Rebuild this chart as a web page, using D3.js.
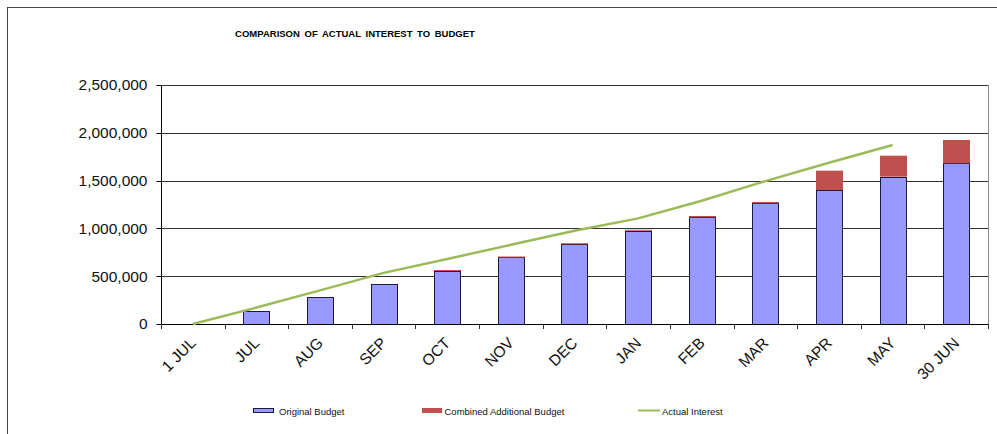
<!DOCTYPE html>
<html>
<head>
<meta charset="utf-8">
<script src="https://cdn.jsdelivr.net/npm/d3@7"></script>
<style>
  body { margin: 0; background: #fff; }
  text { font-family: "Liberation Sans", Arial, sans-serif; }
</style>
</head>
<body>
<div id="chart"></div>
<script>
// DATA
const months = ["1 JUL", "JUL", "AUG", "SEP", "OCT", "NOV", "DEC", "JAN", "FEB", "MAR", "APR", "MAY", "30 JUN"];
const originalBudget = [0, 139000, 279000, 418000, 557000, 698000, 837000, 978000, 1116000, 1262000, 1402000, 1541000, 1681000];
const additionalBudget = [0, 0, 0, 0, 8000, 8000, 8000, 8000, 14000, 14000, 202000, 220000, 244000];
const actualInterest = [0, 172000, 352000, 535000, 680000, 828000, 975000, 1105000, 1290000, 1495000, 1687000, 1872000, null];
const yTicks = [0, 500000, 1000000, 1500000, 2000000, 2500000];

const width = 997, height = 434;
const margin = {left: 161, right: 9, top: 85, bottom: 110};

const svg = d3.select("#chart")
  .append("svg")
  .attr("width", width)
  .attr("height", height);

// outer frame
svg.append("rect")
  .attr("x", 7.5).attr("y", 7.5)
  .attr("width", 1000).attr("height", 500)
  .attr("fill", "none")
  .attr("stroke", "#444");

svg.append("text")
  .attr("x", 355).attr("y", 36.5)
  .attr("text-anchor", "middle")
  .attr("font-size", "9.5px")
  .attr("font-weight", "bold")
  .attr("word-spacing", "2px")
  .text("COMPARISON OF ACTUAL INTEREST TO BUDGET");

// SCALES
const x = d3.scaleBand()
  .domain(months)
  .range([margin.left, width - margin.right])
  .padding(0);

const y = d3.scaleLinear()
  .domain([0, 2500000])
  .range([height - margin.bottom, margin.top]);

const cx = m => x(m) + x.bandwidth() / 2;
const barW = x.bandwidth() * 0.41;

// gridlines
svg.append("g")
  .selectAll("line")
  .data(yTicks.slice(1))
  .join("line")
    .attr("x1", margin.left)
    .attr("x2", width - margin.right)
    .attr("y1", d => Math.round(y(d)) + 0.5)
    .attr("y2", d => Math.round(y(d)) + 0.5)
    .attr("stroke", "#333");

// right border of plot area
svg.append("line")
  .attr("x1", width - margin.right + 0.5).attr("x2", width - margin.right + 0.5)
  .attr("y1", y(2500000)).attr("y2", y(0))
  .attr("stroke", "#888");

// bars
const rows = months.map((m, i) => ({m, orig: originalBudget[i], add: additionalBudget[i], act: actualInterest[i]}));

svg.append("g")
  .selectAll("rect")
  .data(rows.filter(d => d.orig > 0))
  .join("rect")
    .attr("x", d => Math.round(cx(d.m) - barW / 2) + 0.5)
    .attr("y", d => Math.round(y(d.orig)) + 0.5)
    .attr("width", Math.round(barW))
    .attr("height", d => Math.round(y(0)) - Math.round(y(d.orig)))
    .attr("fill", "#9999FF")
    .attr("stroke", "#1a1a3a")
    .attr("stroke-width", 1);

svg.append("g")
  .selectAll("rect")
  .data(rows.filter(d => d.add > 0))
  .join("rect")
    .attr("x", d => Math.round(cx(d.m) - barW / 2))
    .attr("y", d => y(d.orig + d.add))
    .attr("width", Math.round(barW) + 1)
    .attr("height", d => Math.max(1, y(d.orig) - y(d.orig + d.add)))
    .attr("fill", "#C0504D");

// axes
const yAxis = svg.append("g")
  .attr("transform", `translate(${margin.left + 0.5},0)`);
yAxis.append("line")
  .attr("y1", y(2500000)).attr("y2", y(0) + 0.5)
  .attr("stroke", "#000");
yAxis.selectAll("line.tick")
  .data(yTicks)
  .join("line")
    .attr("class", "tick")
    .attr("x1", -5).attr("x2", 0)
    .attr("y1", d => Math.round(y(d)) + 0.5)
    .attr("y2", d => Math.round(y(d)) + 0.5)
    .attr("stroke", "#000");
yAxis.selectAll("text")
  .data(yTicks)
  .join("text")
    .attr("x", -14)
    .attr("y", d => y(d))
    .attr("dy", "0.35em")
    .attr("text-anchor", "end")
    .attr("font-size", "15.5px")
    .attr("fill", "#111")
    .text(d => d3.format(",")(d));

const xAxis = svg.append("g");
xAxis.append("line")
  .attr("x1", margin.left).attr("x2", width - margin.right + 1)
  .attr("y1", Math.round(y(0)) + 0.5).attr("y2", Math.round(y(0)) + 0.5)
  .attr("stroke", "#000");
const bounds = months.map(m => x(m)).concat([x(months[months.length - 1]) + x.bandwidth()]);
xAxis.selectAll("line.tick")
  .data(bounds)
  .join("line")
    .attr("class", "tick")
    .attr("x1", d => Math.round(d) + 0.5).attr("x2", d => Math.round(d) + 0.5)
    .attr("y1", y(0)).attr("y2", y(0) + 5)
    .attr("stroke", "#333");
xAxis.selectAll("text")
  .data(months)
  .join("text")
    .attr("transform", d => `translate(${cx(d) + 4},${y(0) + 20}) rotate(-45)`)
    .attr("text-anchor", "end")
    .attr("font-size", "15.5px")
    .attr("fill", "#111")
    .text(d => d);

// actual interest line
const line = d3.line()
  .defined(d => d.act != null)
  .x(d => cx(d.m))
  .y(d => y(d.act));

svg.append("path")
  .datum(rows)
  .attr("d", line)
  .attr("fill", "none")
  .attr("stroke", "#9BBB59")
  .attr("stroke-width", 2.5);

// LEGEND
const legend = svg.append("g").attr("font-size", "9.5px").attr("fill", "#111");
legend.append("rect")
  .attr("x", 253.5).attr("y", 408.5).attr("width", 20).attr("height", 4)
  .attr("fill", "#9999FF").attr("stroke", "#1a1a3a");
legend.append("text").attr("x", 279).attr("y", 415).text("Original Budget");
legend.append("rect")
  .attr("x", 422).attr("y", 408).attr("width", 20).attr("height", 5)
  .attr("fill", "#C0504D");
legend.append("text").attr("x", 444.5).attr("y", 415).text("Combined Additional Budget");
legend.append("line")
  .attr("x1", 638).attr("x2", 660).attr("y1", 410.5).attr("y2", 410.5)
  .attr("stroke", "#9BBB59").attr("stroke-width", 2);
legend.append("text").attr("x", 662).attr("y", 415).text("Actual Interest");
</script>
</body>
</html>
